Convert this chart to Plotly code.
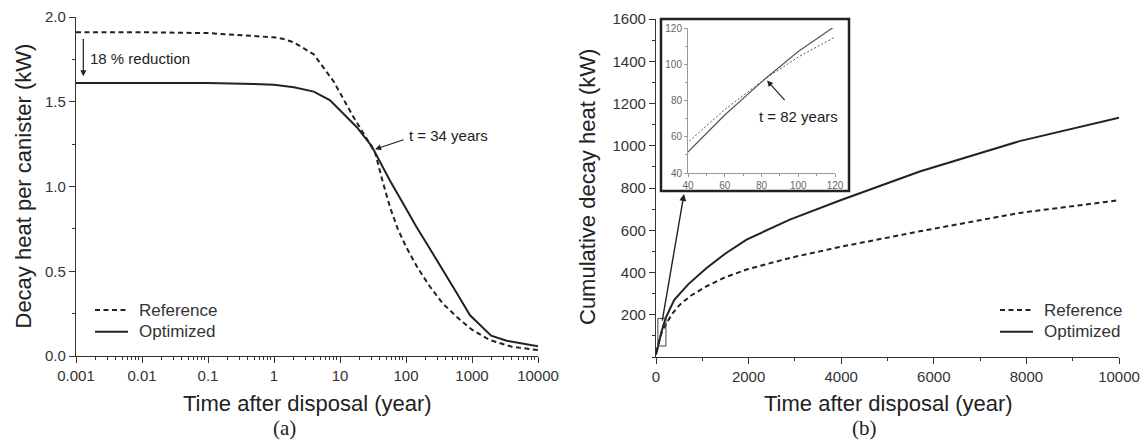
import math
import plotly.graph_objects as go

W, H = 1143, 447

# ---------- (a) decay heat per canister vs. time (log scale) ----------
t_ref_a = [0.001, 0.01, 0.1, 0.5, 1, 1.4, 2, 4, 8, 16, 28, 34, 45, 57, 75, 100,
           150, 230, 360, 590, 1000, 1860, 4000, 10000]
q_ref_a = [1.91, 1.91, 1.905, 1.89, 1.88, 1.87, 1.85, 1.78, 1.62, 1.41, 1.25, 1.20,
           1.02, 0.88, 0.75, 0.645, 0.52, 0.41, 0.31, 0.23, 0.155, 0.094, 0.055, 0.035]

t_opt_a = [0.001, 0.01, 0.1, 0.5, 1, 2, 4, 7, 10, 18, 30, 34, 57, 100, 145, 230,
           367, 590, 933, 1950, 3350, 10000]
q_opt_a = [1.61, 1.61, 1.61, 1.605, 1.60, 1.585, 1.56, 1.51, 1.45, 1.35, 1.24, 1.20,
           1.035, 0.87, 0.76, 0.633, 0.506, 0.37, 0.24, 0.12, 0.09, 0.058]

# ---------- (b) cumulative decay heat vs. time (linear scale) ----------
t_ref_b = [0, 40, 60, 82, 100, 120, 230, 350, 518, 750, 1093, 1500, 1956, 2890,
           3538, 3970, 5696, 7853, 10000]
q_ref_b = [21, 57, 75, 92, 104, 115, 161, 205, 248, 290, 335, 378, 414, 469,
           500, 521, 595, 682, 742]

t_opt_b = [0, 40, 60, 82, 100, 120, 210, 395, 700, 1093, 1500, 1956, 2890, 3970,
           5696, 7853, 10000]
q_opt_b = [11, 52, 72, 92, 107, 121, 185, 271, 345, 421, 490, 556, 650, 741,
           878, 1022, 1133]

# tick labels
xa_ticks = [0.001, 0.01, 0.1, 1, 10, 100, 1000, 10000]
xa_ticktext = ["0.001", "0.01", "0.1", "1", "10", "100", "1000", "10000"]
ya_ticks = [0.0, 0.5, 1.0, 1.5, 2.0]
xb_ticks = [0, 2000, 4000, 6000, 8000, 10000]
xb_ticktext = ["0", "2000", "4000", "6000", "8000", "10000"]
yb_ticks = [200, 400, 600, 800, 1000, 1200, 1400, 1600]
inset_ticks = [40, 60, 80, 100, 120]

series_names = ["Reference", "Optimized"]

FONT = "Liberation Sans, Arial, sans-serif"
SERIF = "Liberation Serif, Times New Roman, serif"
INK = "#222222"
AXIS = "#333333"
DASH = "5px,3.5px"
styles = [dict(color=INK, width=2, dash=DASH), dict(color=INK, width=2)]


def px_x(p):
    return p / W


def px_y(p):
    return 1 - p / H


fig = go.Figure()

# panel (a)
for t, q, name, st in zip([t_ref_a, t_opt_a], [q_ref_a, q_opt_a], series_names, styles):
    fig.add_trace(go.Scatter(x=t, y=q, mode="lines", name=name, line=st,
                             xaxis="x", yaxis="y", showlegend=False))

# panel (b)
for t, q, name, st in zip([t_ref_b, t_opt_b], [q_ref_b, q_opt_b], series_names, styles):
    fig.add_trace(go.Scatter(x=t, y=q, mode="lines", name=name, line=st,
                             xaxis="x2", yaxis="y2", showlegend=False))

# inset of panel (b): first 120 years
fig.add_trace(go.Scatter(x=t_ref_b, y=q_ref_b, mode="lines", showlegend=False,
                         line=dict(color="#555555", width=1, dash="2px,2px"),
                         xaxis="x3", yaxis="y3"))
fig.add_trace(go.Scatter(x=t_opt_b, y=q_opt_b, mode="lines", showlegend=False,
                         line=dict(color="#555555", width=1.2),
                         xaxis="x3", yaxis="y3"))

log_minor = [k * 10 ** e for e in range(-3, 4) for k in range(2, 10)]

axis_common = dict(showline=True, linecolor=AXIS, linewidth=1.3, ticks="outside",
                   ticklen=6, tickwidth=1.2, tickcolor=AXIS, showgrid=False,
                   zeroline=False, tickfont=dict(family=FONT, size=15, color="#333333"))
inset_common = dict(range=[40, 120], showline=True, linecolor="#999999", linewidth=1,
                    ticks="outside", ticklen=3, tickcolor="#999999", showgrid=False,
                    zeroline=False, tickmode="array", tickvals=inset_ticks,
                    minor=dict(dtick=10, ticks="outside", ticklen=2, tickcolor="#999999"),
                    tickfont=dict(family=FONT, size=10, color="#666666"))

fig.update_layout(
    width=W, height=H,
    margin=dict(l=0, r=0, t=0, b=0, autoexpand=False),
    paper_bgcolor="white", plot_bgcolor="white",
    font=dict(family=FONT, color=INK),
    showlegend=False,
    xaxis=dict(type="log", range=[-3, 4], domain=[px_x(76), px_x(538)], anchor="y",
               tickmode="array", tickvals=xa_ticks, ticktext=xa_ticktext,
               minor=dict(tickvals=log_minor, ticks="outside", ticklen=3,
                          tickcolor=AXIS, tickwidth=1),
               **axis_common),
    yaxis=dict(range=[0, 2.0], domain=[px_y(356), px_y(17)], anchor="x",
               tickmode="array", tickvals=ya_ticks, tickformat=".1f",
               minor=dict(dtick=0.25, ticks="outside", ticklen=3,
                          tickcolor=AXIS, tickwidth=1),
               **axis_common),
    xaxis2=dict(range=[0, 10000], domain=[px_x(656), px_x(1119)], anchor="y2",
                tickmode="array", tickvals=xb_ticks, ticktext=xb_ticktext,
                minor=dict(dtick=1000, ticks="outside", ticklen=3,
                           tickcolor=AXIS, tickwidth=1),
                **axis_common),
    yaxis2=dict(range=[0, 1600], domain=[px_y(357), px_y(19)], anchor="x2",
                tickmode="array", tickvals=yb_ticks,
                minor=dict(dtick=100, ticks="outside", ticklen=3,
                           tickcolor=AXIS, tickwidth=1),
                **axis_common),
    xaxis3=dict(domain=[px_x(688), px_x(835)], anchor="y3", **inset_common),
    yaxis3=dict(domain=[px_y(173), px_y(28)], anchor="x3", **inset_common),
)

# inset frame and the zoom box in panel (b)
fig.add_shape(type="rect", xref="paper", yref="paper",
              x0=px_x(661), x1=px_x(849), y0=px_y(191), y1=px_y(19),
              line=dict(color=INK, width=2.5), fillcolor="white", layer="below")
fig.add_shape(type="rect", xref="x2", yref="y2", x0=40, x1=215, y0=52, y1=183,
              line=dict(color="#444444", width=1))

# legends (one per panel)
for x0 in (95, 1000):
    for row, (name, st) in enumerate(zip(series_names, styles)):
        yy = px_y(310 + 21.7 * row)
        fig.add_shape(type="line", xref="paper", yref="paper",
                      x0=px_x(x0), x1=px_x(x0 + 33), y0=yy, y1=yy, line=st)
        fig.add_annotation(text=name, xref="paper", yref="paper",
                           x=px_x(x0 + 42), y=yy, xanchor="left", yanchor="middle",
                           showarrow=False, font=dict(size=17, color="#333333"))

annotations = [
    # axis titles
    dict(text="Decay heat per canister (kW)", xref="paper", yref="paper",
         x=px_x(22.5), y=px_y(186), textangle=-90, font=dict(size=22, color=INK)),
    dict(text="Time after disposal (year)", xref="paper", yref="paper",
         x=px_x(307), y=px_y(403), font=dict(size=22, color=INK)),
    dict(text="(a)", xref="paper", yref="paper", x=px_x(284), y=px_y(428),
         font=dict(family=SERIF, size=21, color=INK)),
    dict(text="Cumulative decay heat (kW)", xref="paper", yref="paper",
         x=px_x(587), y=px_y(187), textangle=-90, font=dict(size=22, color=INK)),
    dict(text="Time after disposal (year)", xref="paper", yref="paper",
         x=px_x(888), y=px_y(403), font=dict(size=22, color=INK)),
    dict(text="(b)", xref="paper", yref="paper", x=px_x(864), y=px_y(428),
         font=dict(family=SERIF, size=21, color=INK)),
    dict(text="18 % reduction", xref="x", yref="y", x=math.log10(0.00152), y=1.758,
         xanchor="left", font=dict(size=15, color=INK)),
    dict(text="t = 34 years", xref="x", yref="y", x=2.015, y=1.298,
         xanchor="left", font=dict(size=15, color=INK)),
    dict(text="t = 82 years", xref="x3", yref="y3", x=100.4, y=71,
         font=dict(size=15, color=INK)),
]
for a in annotations:
    a.setdefault("xanchor", "center")
    fig.add_annotation(showarrow=False, yanchor="middle", **a)

arrow = dict(text="", showarrow=True, arrowhead=2, arrowsize=1, arrowwidth=1.2,
             arrowcolor=INK)
# 18 % reduction
fig.add_annotation(xref="x", yref="y", x=math.log10(0.00129), y=1.65,
                   axref="pixel", ax=0, ayref="y", ay=1.88, **arrow)
# crossing point in (a)
fig.add_annotation(xref="x", yref="y", x=math.log10(34), y=1.22, ax=30, ay=-10, **arrow)
# crossing point in inset
fig.add_annotation(xref="x3", yref="y3", x=83, y=91, ax=19, ay=21, **arrow)
# pointer from zoom box to inset
fig.add_annotation(xref="x2", yref="y2", x=605, y=772, axref="x2", ayref="y2",
                   ax=130, ay=165, **{**arrow, "arrowwidth": 1.4})

fig.write_html("out.html")
